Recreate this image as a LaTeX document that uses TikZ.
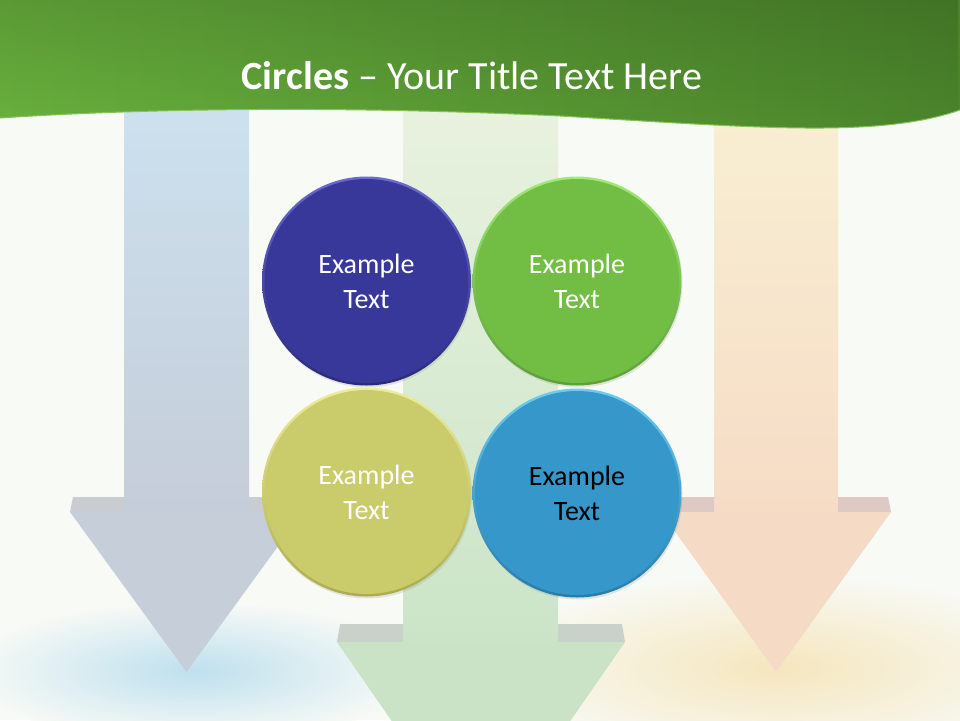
\documentclass[tikz,border=0pt]{standalone}
\usepackage{fontspec}
\setmainfont{Carlito}
\usetikzlibrary{shadows,fadings}
\definecolor{bgc}{HTML}{F8FAF6}
\definecolor{bandL}{HTML}{6AB33E}
\definecolor{bandR}{HTML}{4C862C}
\definecolor{bandLine}{HTML}{86C45A}
\definecolor{lshT}{HTML}{CCE1EE}
\definecolor{lshB}{HTML}{C5CDD9}
\definecolor{lhead}{HTML}{C6CED9}
\definecolor{lband}{HTML}{C9CCD2}
\definecolor{cshT}{HTML}{E9F2DF}
\definecolor{cshB}{HTML}{CBE4C8}
\definecolor{chead}{HTML}{CAE3C7}
\definecolor{cband}{HTML}{C9D1CB}
\definecolor{rshT}{HTML}{F8EFD3}
\definecolor{rshB}{HTML}{F6DCC6}
\definecolor{rhead}{HTML}{F5DAC6}
\definecolor{rband}{HTML}{DFC9C4}
\definecolor{glowB}{HTML}{BEE0EE}
\definecolor{glowY}{HTML}{F5E6BD}
\definecolor{navyM}{HTML}{38389A}
\definecolor{navyT}{HTML}{6A6AD0}
\definecolor{navyB}{HTML}{2A2A78}
\definecolor{limeM}{HTML}{72BE45}
\definecolor{limeT}{HTML}{A0EA75}
\definecolor{limeB}{HTML}{5E9E38}
\definecolor{oliveM}{HTML}{CACB6B}
\definecolor{oliveT}{HTML}{EDED95}
\definecolor{oliveB}{HTML}{ABAC52}
\definecolor{skyM}{HTML}{3597CA}
\definecolor{skyT}{HTML}{6CCDF4}
\definecolor{skyB}{HTML}{287BA8}
\begin{document}
\begin{tikzpicture}[x=1pt,y=-1pt,
 bubble/.style={circle,minimum size=209pt,inner sep=0pt,align=center,
  font=\fontsize{28}{35}\selectfont,
  drop shadow={opacity=0.18,shadow xshift=1pt,shadow yshift=-2pt}},
 bevel/.style={path picture={\fill[#1] (path picture bounding box.center) circle (102pt);}}]
 \useasboundingbox (0,0) rectangle (960,720);
 \fill[bgc] (0,0) rectangle (960,720);
 \shade[inner color=glowB,outer color=bgc] (193,671) ellipse (230 and 70);
 \shade[inner color=glowY,outer color=bgc] (778,668) ellipse (300 and 95);
 \shade[top color=lshT,bottom color=lshB] (124,100) rectangle (249,512);
 \fill[lband] (70,512)--(73,497)--(124,497)--(124,512)--cycle;
 \fill[lband] (249,512)--(249,497)--(300,497)--(303,512)--cycle;
 \fill[lhead] (70,512)--(303,512)--(186.5,672)--cycle;
 \shade[top color=cshT,bottom color=cshB] (403,100) rectangle (558,642);
 \fill[cband] (337,642)--(340,624)--(403,624)--(403,642)--cycle;
 \fill[cband] (558,642)--(558,624)--(622,624)--(625,642)--cycle;
 \fill[chead] (337,642)--(625,642)--(481,850)--cycle;
 \shade[top color=rshT,bottom color=rshB] (714,100) rectangle (838,512);
 \fill[rband] (661,512)--(664,497)--(714,497)--(714,512)--cycle;
 \fill[rband] (838,512)--(838,497)--(888,497)--(891,512)--cycle;
 \fill[rhead] (661,512)--(891,512)--(776,672)--cycle;
 \shade[left color=bandL,right color=bandR] (0,0)--(960,0)--(960,110) .. controls (880,138) and (760,128) .. (560,116) .. controls (350,106) and (150,108) .. (0,118)--cycle;
 \fill[black,opacity=0.14,path fading=south] (0,0)--(960,0)--(960,110) .. controls (880,138) and (760,128) .. (560,116) .. controls (350,106) and (150,108) .. (0,118)--cycle;
 \draw[bandLine,line width=1pt] (960,110) .. controls (880,138) and (760,128) .. (560,116) .. controls (350,106) and (150,108) .. (0,118);
 \node[bubble,top color=navyT,bottom color=navyB,bevel=navyM,text=white] (c1) at (366.5,281) {Example\\Text};
 \node[bubble,top color=limeT,bottom color=limeB,bevel=limeM,text=white] (c2) at (577,281) {Example\\Text};
 \node[bubble,top color=oliveT,bottom color=oliveB,bevel=oliveM,text=white] (c3) at (366.5,492) {Example\\Text};
 \node[bubble,top color=skyT,bottom color=skyB,bevel=skyM,text=black] (c4) at (577,493) {Example\\Text};
 \node[text=white,font=\fontsize{40}{48}\selectfont] (title) at (472,76) {\textbf{Circles} -- Your Title Text Here};
\end{tikzpicture}
\end{document}
